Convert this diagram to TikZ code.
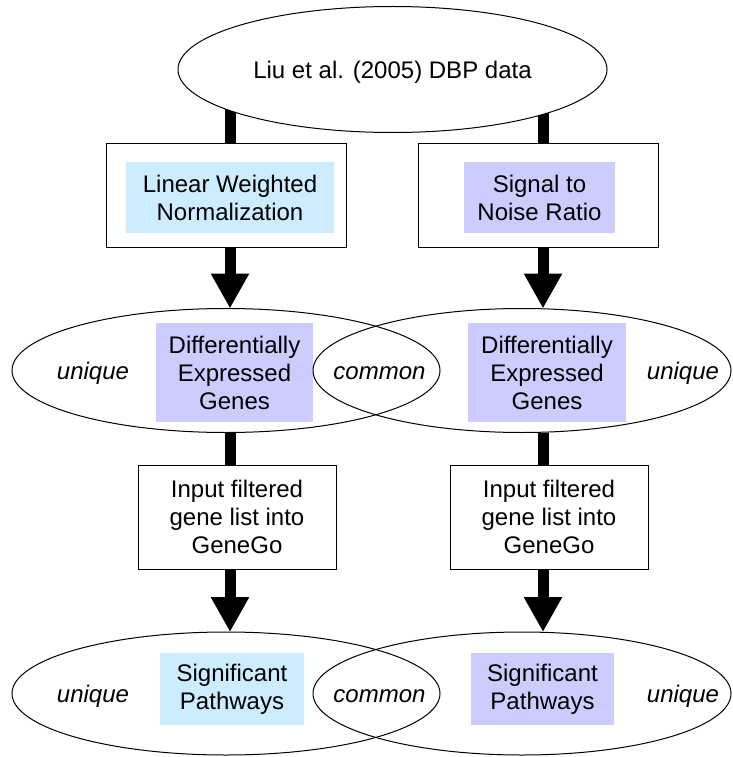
\documentclass[tikz,border=0pt]{standalone}
\usepackage{fontspec}
\setmainfont{Liberation Sans}
\usetikzlibrary{shapes.geometric,arrows.meta}
\pgfdeclarelayer{back}
\pgfsetlayers{back,main}
\definecolor{paleblue}{HTML}{CCECFF}
\definecolor{palelav}{HTML}{CCCCFF}
\begin{document}
\begin{tikzpicture}[x=1pt,y=-1pt,
  every node/.style={inner sep=0pt, outer sep=0pt, align=center,
    font=\fontsize{24}{28}\selectfont},
  oval/.style={draw, line width=1pt, ellipse},
  stepbox/.style={draw, line width=1pt, rectangle},
  shade/.style={rectangle},
  tag/.style={font=\fontsize{24}{28}\selectfont\itshape, anchor=base},
  stem/.style={line width=11pt},
  flow/.style={line width=11pt, -{Triangle[width=36pt,length=35pt]}}]
\useasboundingbox (0,0) rectangle (732,757);

% the two processing columns
\coordinate (colL) at (230,0);
\coordinate (colR) at (543,0);

% data source
\node[oval, fill=white, minimum width=429pt, minimum height=126pt, text depth=0pt]
  (top) at (392.5,69.5) {Liu et al. (2005) DBP data};

% normalisation methods
\node[stepbox, minimum width=240pt, minimum height=104pt] (lnorm) at (226,195) {};
\node[shade, fill=paleblue, minimum width=208pt, minimum height=71pt]
  (lnormin) at (230,197.5) {Linear Weighted\\Normalization};
\node[stepbox, minimum width=240pt, minimum height=104pt] (rsnr) at (538,195) {};
\node[shade, fill=palelav, minimum width=151pt, minimum height=71pt]
  (rsnrin) at (539.5,197.5) {Signal to\\Noise Ratio};

% differentially expressed genes (Venn)
\node[shade, fill=palelav, minimum width=157pt, minimum height=99pt]
  (ldein) at (234.5,372.5) {Differentially\\Expressed\\Genes};
\node[shade, fill=palelav, minimum width=158pt, minimum height=99pt]
  (rdein) at (547,372.5) {Differentially\\Expressed\\Genes};
\node[oval, minimum width=428pt, minimum height=124pt] (lde) at (226,370.5) {};
\node[oval, minimum width=418pt, minimum height=124pt] (rde) at (522,370.5) {};
\node[tag] (luni) at (93,379) {unique};
\node[tag] (common1) at (379.5,379) {common};
\node[tag] (runi) at (683,379) {unique};

% GeneGo input
\node[stepbox, minimum width=198pt, minimum height=104pt]
  (lgo) at (237,517) {Input filtered\\gene list into\\GeneGo};
\node[stepbox, minimum width=198pt, minimum height=104pt]
  (rgo) at (549,517) {Input filtered\\gene list into\\GeneGo};

% significant pathways (Venn)
\node[shade, fill=paleblue, minimum width=144pt, minimum height=72pt]
  (lspin) at (232,689) {Significant\\Pathways};
\node[shade, fill=palelav, minimum width=143pt, minimum height=72pt]
  (rspin) at (542.5,689) {Significant\\Pathways};
\node[oval, minimum width=428pt, minimum height=123pt] (lsp) at (226,693.5) {};
\node[oval, minimum width=418pt, minimum height=123pt] (rsp) at (522,693.5) {};
\node[tag] (luni2) at (93,702) {unique};
\node[tag] (common2) at (379.5,702) {common};
\node[tag] (runi2) at (683,702) {unique};

% connectors
\begin{pgfonlayer}{back}
  \draw[stem] (colL |- top.center) -- (colL |- lnorm.north);
  \draw[stem] (colR |- top.center) -- (colR |- rsnr.north);
\end{pgfonlayer}
\draw[flow] (colL |- lnorm.south) -- (colL |- lde.north);
\draw[flow] (colR |- rsnr.south) -- (colR |- rde.north);
\draw[stem] (colL |- lde.south) -- (colL |- lgo.north);
\draw[stem] (colR |- rde.south) -- (colR |- rgo.north);
\draw[flow] (colL |- lgo.south) -- (colL |- lsp.north);
\draw[flow] (colR |- rgo.south) -- (colR |- rsp.north);
\end{tikzpicture}
\end{document}
